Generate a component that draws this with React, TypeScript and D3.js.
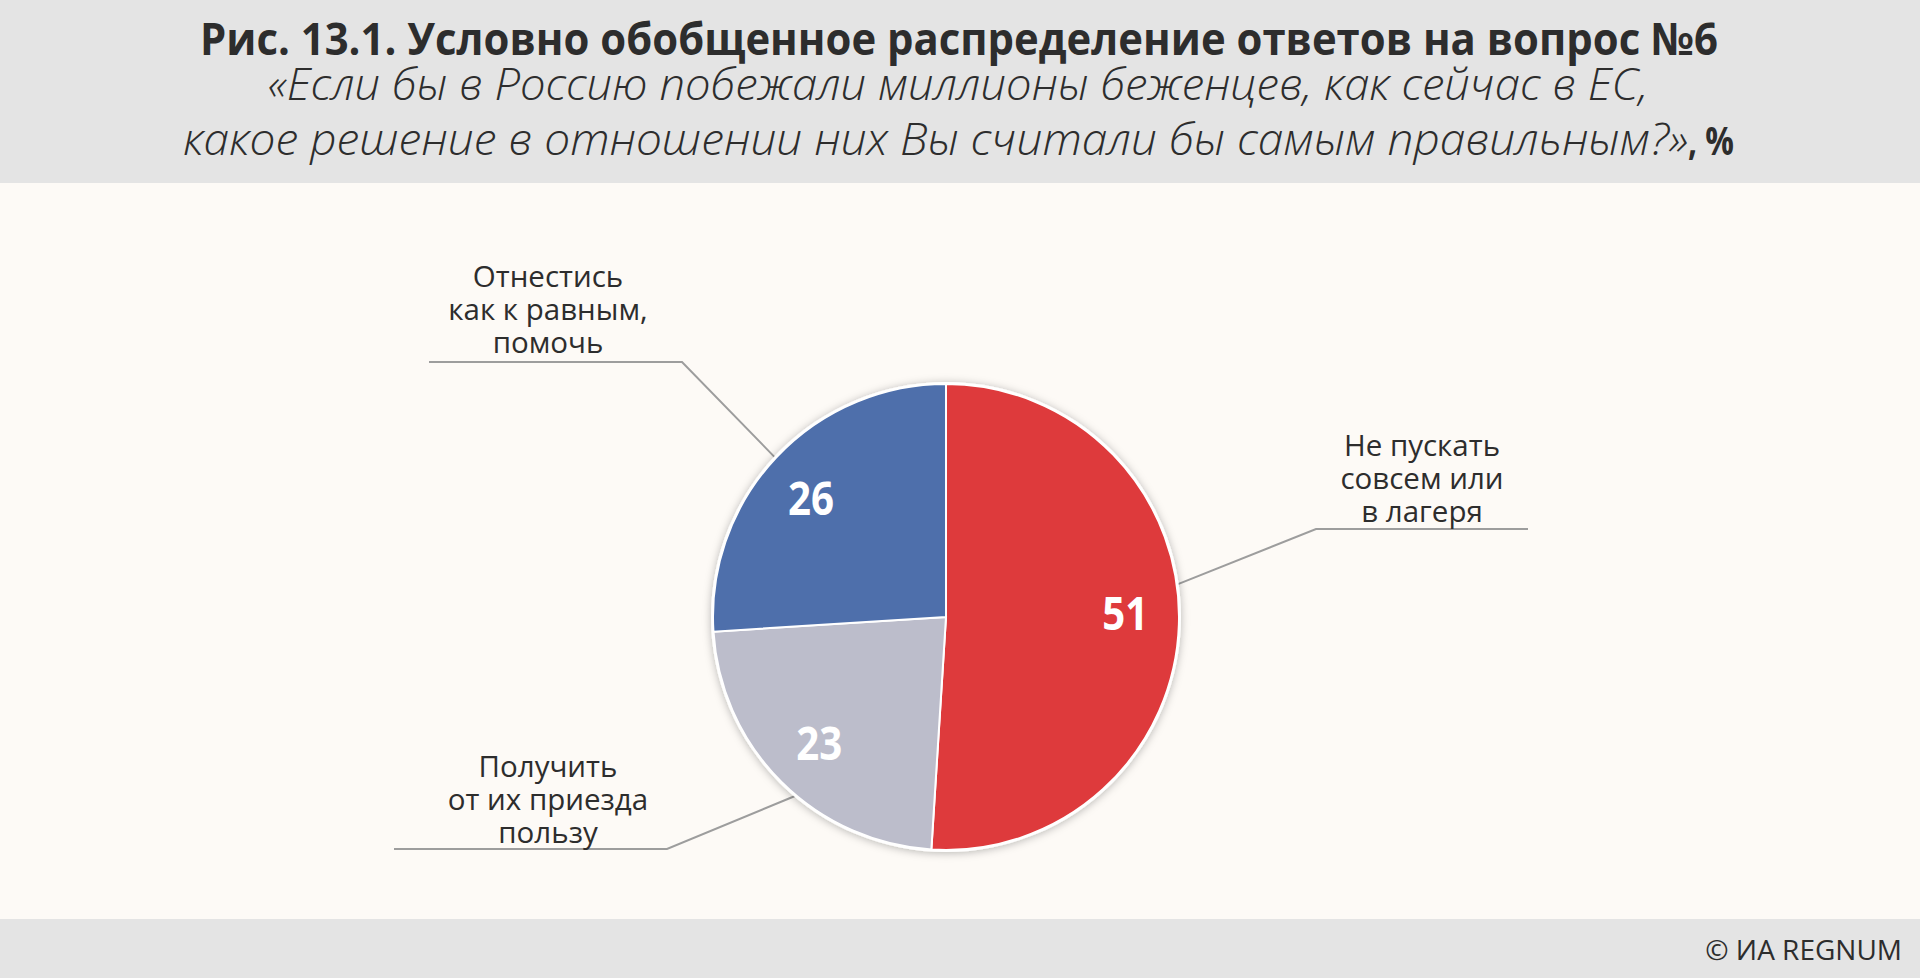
import React, { useEffect } from 'react';
import * as d3 from 'd3';

// answers, clockwise from 12 o'clock
const categories = ['Не пускать совсем или в лагеря', 'Получить от их приезда пользу', 'Отнестись как к равным, помочь'];
const values = [51, 23, 26];
const labelLines = [
  ['Не пускать', 'совсем или', 'в лагеря'],
  ['Получить', 'от их приезда', 'пользу'],
  ['Отнестись', 'как к равным,', 'помочь'],
];
const colors = ['#de3a3c', '#bcbdcb', '#4e6fab'];

const title = 'Рис. 13.1. Условно обобщенное распределение ответов на вопрос №6';
const subtitle1 = '«Если бы в Россию побежали миллионы беженцев, как сейчас в ЕС,';
const subtitle2 = 'какое решение в отношении них Вы считали бы самым правильным?»';
const source = '© ИА REGNUM';

// leader / callout placement (angle in degrees on the rim, elbow, end of shelf, text block)
const callouts = [
  { angle: 82, elbow: [1316, 529], endX: 1528, textX: 1422, firstBase: 456 },
  { angle: 220, elbow: [667, 849], endX: 394, textX: 548, firstBase: 777 },
  { angle: 313, elbow: [682, 362], endX: 429, textX: 548, firstBase: 287 },
];
// small nudges of the value labels along the rim (degrees)
const valueNudge = [-3, 0, -2];

const W = 1920;
const H = 978;
const cx = 946;
const cy = 617;
const radius = 233;

const App = () => {
  useEffect(() => {
    document.body.style.margin = '0';
  }, []);

  const pie = d3.pie<number>().sort(null).value(d => d)(values);
  const arc = d3.arc<d3.PieArcDatum<number>>().innerRadius(0).outerRadius(radius);
  const labelR = radius * 0.77;

  const labelFont = "'Open Sans', 'Noto Sans', sans-serif";
  const ink = '#2d2d2d';

  return (
    <svg width={W} height={H} style={{ display: 'block' }}>
      <defs>
        <filter id="shadow" x="-20%" y="-20%" width="140%" height="140%">
          <feDropShadow dx="0" dy="1" stdDeviation="4" floodColor="#000" floodOpacity="0.28" />
        </filter>
      </defs>
      <rect x={0} y={0} width={W} height={H} fill="#fdfaf6" />

      {/* header */}
      <rect x={0} y={0} width={W} height={183} fill="#e4e4e4" />
      <text x={200} y={55} textLength={1518} lengthAdjust="spacingAndGlyphs"
        fontFamily={labelFont} fontWeight={700} fontSize={45} fill={ink}>{title}</text>
      <text x={268} y={100} textLength={1380} lengthAdjust="spacingAndGlyphs"
        fontFamily={labelFont} fontWeight={300} fontStyle="italic" fontSize={44} fill={ink}>{subtitle1}</text>
      <text x={183} y={155} textLength={1505} lengthAdjust="spacingAndGlyphs"
        fontFamily={labelFont} fontWeight={300} fontStyle="italic" fontSize={44} fill={ink}>{subtitle2}</text>
      <text x={1688} y={155} textLength={46} lengthAdjust="spacingAndGlyphs"
        fontFamily={labelFont} fontWeight={700} fontSize={40} fill={ink}>, %</text>

      {/* footer */}
      <rect x={0} y={919} width={W} height={H - 919} fill="#e4e4e4" />
      <text x={1902} y={960} textAnchor="end" fontFamily={labelFont} fontSize={28} fill={ink}>{source}</text>

      {/* leaders */}
      {callouts.map((c, i) => {
        const [px, py] = d3.pointRadial((c.angle * Math.PI) / 180, radius);
        const pts: [number, number][] = [[cx + px, cy + py], [c.elbow[0], c.elbow[1]], [c.endX, c.elbow[1]]];
        return (
          <path key={'l' + i} d={d3.line()(pts) || ''} fill="none" stroke="#9d9d9d" strokeWidth={2} />
        );
      })}

      {/* pie */}
      <g transform={`translate(${cx},${cy})`}>
        <circle r={radius + 2} fill="#ffffff" filter="url(#shadow)" />
        {pie.map((p, i) => (
          <path key={categories[i]} d={arc(p) || ''} fill={colors[i]} stroke="#ffffff" strokeWidth={2} />
        ))}
        {pie.map((p, i) => {
          const a = (p.startAngle + p.endAngle) / 2 + (valueNudge[i] * Math.PI) / 180;
          const [lx, ly] = d3.pointRadial(a, labelR);
          return (
            <text key={'v' + i} x={lx - 23} y={ly} dy="0.36em" textLength={46} lengthAdjust="spacingAndGlyphs"
              fontFamily={labelFont} fontWeight={700} fontSize={46} fill="#ffffff">{values[i]}</text>
          );
        })}
      </g>

      {/* category labels */}
      {callouts.map((c, i) => (
        <text key={'t' + i} textAnchor="middle" fontFamily={labelFont} fontSize={29.5} fill={ink}>
          {labelLines[i].map((line, j) => (
            <tspan key={j} x={c.textX} y={c.firstBase + j * 33}>{line}</tspan>
          ))}
        </text>
      ))}
    </svg>
  );
};

export default App;
